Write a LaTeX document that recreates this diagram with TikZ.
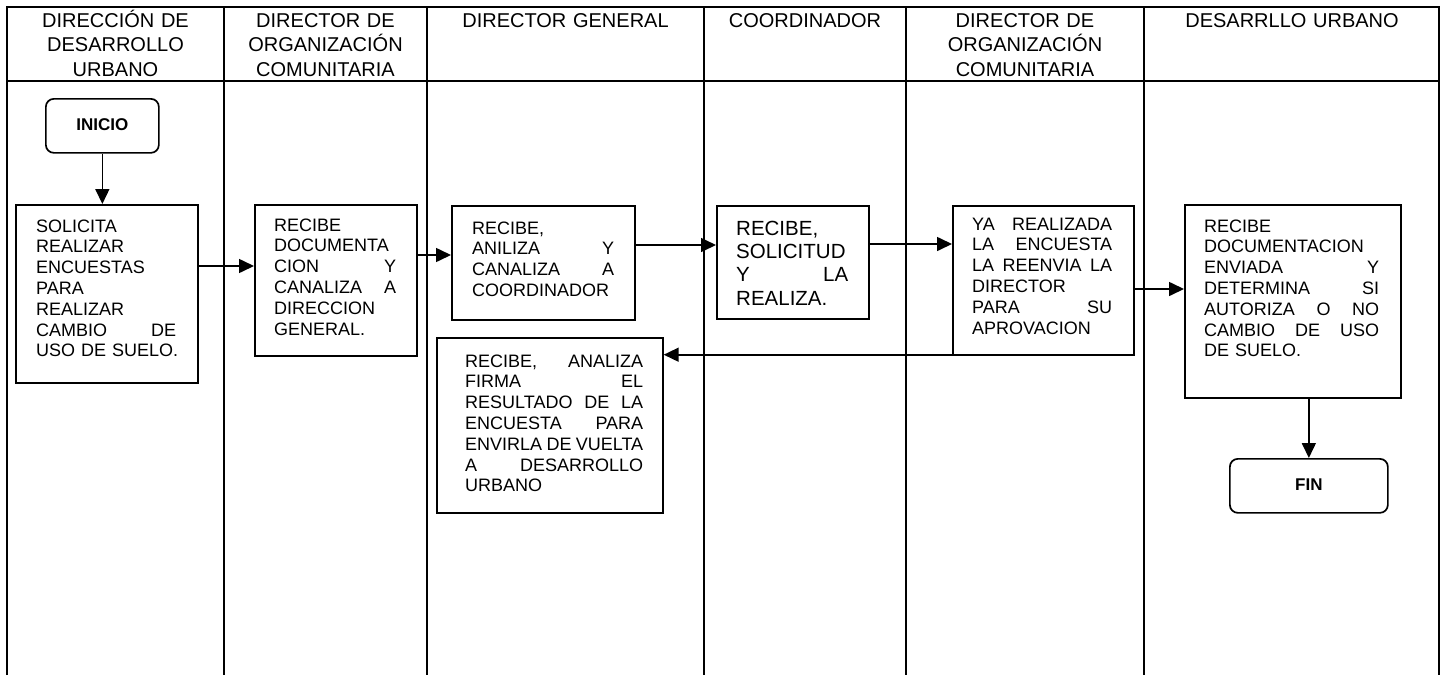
\documentclass[tikz,border=0pt]{standalone}
\usepackage{fontspec}
\setmainfont{Liberation Sans}
\usetikzlibrary{arrows.meta}
\newcommand\myJ[1]{\leavevmode\hbox to\linewidth{#1}}
\newcommand\myL[1]{\leavevmode\hbox{#1}}
\hyphenpenalty=10000
\begin{document}
\begin{tikzpicture}[x=1pt,y=-1pt,
  gridthick/.style={line width=1.8pt},
  gridthin/.style={line width=1.1pt},
  box/.style={draw, line width=1.7pt, inner sep=0pt, anchor=north west},
  term/.style={draw, line width=1.7pt, rounded corners=8pt, inner sep=0pt, anchor=north west,
    text depth=3pt, font=\fontsize{17}{20}\selectfont\bfseries},
  body/.style={inner sep=0pt, anchor=base west, font=\fontsize{18}{20.8}\selectfont},
  head/.style={inner sep=0pt, anchor=base, align=center, font=\fontsize{20}{24.3}\selectfont},
  arr/.style={line width=1.6pt, -{Triangle[length=15pt,width=14pt]}},
]
\useasboundingbox (0,0) rectangle (1446,675);

% lanes
\draw[gridthick] (7,675) -- (7,7) -- (1439,7) -- (1439,675);
\draw[line width=1.5pt] (7,81) -- (1439,81);
\draw[gridthick] (224,7) -- (224,675);
\draw[gridthin]  (427,7) -- (427,675);
\draw[gridthick] (704,7) -- (704,675);
\draw[gridthin]  (906,7) -- (906,675);
\draw[gridthick] (1144,7) -- (1144,675);

% headers
\node[head, text width=210pt] (h1) at (115.5,27.5) {DIRECCIÓN DE\\DESARROLLO\\URBANO};
\node[head, text width=198pt] (h2) at (325.5,27.5) {DIRECTOR DE\\ORGANIZACIÓN\\COMUNITARIA};
\node[head, text width=270pt] (h3) at (565.5,27.5) {DIRECTOR GENERAL};
\node[head, text width=198pt] (h4) at (805,27.5) {COORDINADOR};
\node[head, text width=232pt] (h5) at (1025,27.5) {DIRECTOR DE\\ORGANIZACIÓN\\COMUNITARIA};
\node[head, text width=290pt] (h6) at (1292,27.5) {DESARRLLO URBANO};

% terminals
\node[term, minimum width=113pt, minimum height=54pt] (inicio) at (45,98) {INICIO};
\node[term, minimum width=158pt, minimum height=54pt] (fin) at (1229,458) {FIN};

% process boxes
\node[box, minimum width=182pt, minimum height=178pt] (b1) at (15,204) {};
\node[box, minimum width=162pt, minimum height=151pt] (b2) at (254,204) {};
\node[box, minimum width=183pt, minimum height=114pt] (b3) at (451,205) {};
\node[box, minimum width=152pt, minimum height=113pt] (b4) at (716,205) {};
\node[box, minimum width=181pt, minimum height=149pt] (b5) at (952,205) {};
\node[box, minimum width=216pt, minimum height=193pt] (b6) at (1184,204) {};
\node[box, minimum width=226pt, minimum height=175pt] (b7) at (436,337) {};

% box texts
\node[body, text width=140pt] (t1) at (36,232) {\myL{SOLICITA}\\
\myL{REALIZAR}\\
\myL{ENCUESTAS}\\
\myL{PARA}\\
\myL{REALIZAR}\\
\myJ{CAMBIO\hfill DE}\\
\myL{USO DE SUELO.}};

\node[body, text width=122pt] (t2) at (274,231) {\myL{RECIBE}\\
\myL{DOCUMENTA}\\
\myJ{CION\hfill Y}\\
\myJ{CANALIZA\hfill A}\\
\myL{DIRECCION}\\
\myL{GENERAL.}};

\node[body, text width=142pt] (t3) at (472,234) {\myL{RECIBE,}\\
\myJ{ANILIZA\hfill Y}\\
\myJ{CANALIZA\hfill A}\\
\myL{COORDINADOR}};

\node[body, text width=112pt, font=\fontsize{20.5}{23.4}\selectfont] (t4) at (736,235) {\myL{RECIBE,}\\
\myL{SOLICITUD}\\
\myJ{Y\hfill LA}\\
\myL{REALIZA.}};

\node[body, text width=140pt] (t5) at (972,230) {\myJ{YA\hfill REALIZADA}\\
\myJ{LA\hfill ENCUESTA}\\
\myJ{LA\hfill REENVIA\hfill LA}\\
\myL{DIRECTOR}\\
\myJ{PARA\hfill SU}\\
\myL{APROVACION}};

\node[body, text width=175pt] (t6) at (1204,232) {\myL{RECIBE}\\
\myL{DOCUMENTACION}\\
\myJ{ENVIADA\hfill Y}\\
\myJ{DETERMINA\hfill SI}\\
\myJ{AUTORIZA\hfill O\hfill NO}\\
\myJ{CAMBIO\hfill DE\hfill USO}\\
\myL{DE SUELO.}};

\node[body, text width=178pt] (t7) at (465,367) {\myJ{RECIBE,\hfill ANALIZA}\\
\myJ{FIRMA\hfill EL}\\
\myJ{RESULTADO\hfill DE\hfill LA}\\
\myJ{ENCUESTA\hfill PARA}\\
\myJ{ENVIRLA\hfill DE\hfill VUELTA}\\
\myJ{A\hfill DESARROLLO}\\
\myL{URBANO}};

% connectors
\draw[arr] (inicio.south) -- (inicio.south |- b1.north);
\coordinate (p12) at ([yshift=-62pt]b1.north east);
\draw[arr] (p12) -- (p12 -| b2.west);
\coordinate (p23) at ([yshift=-51pt]b2.north east);
\draw[arr] (p23) -- (p23 -| b3.west);
\coordinate (p34) at ([yshift=-40pt]b3.north east);
\draw[arr] (p34) -- (p34 -| b4.west);
\coordinate (p45) at ([yshift=-39pt]b4.north east);
\draw[arr] (p45) -- (p45 -| b5.west);
\coordinate (p56) at ([yshift=-84pt]b5.north east);
\draw[arr] (p56) -- (p56 -| b6.west);
\coordinate (p57) at ([yshift=1pt]b5.south west);
\draw[arr] (p57) -- (p57 -| b7.east);
\draw[arr] (fin.north |- b6.south) -- (fin.north);
\end{tikzpicture}
\end{document}
